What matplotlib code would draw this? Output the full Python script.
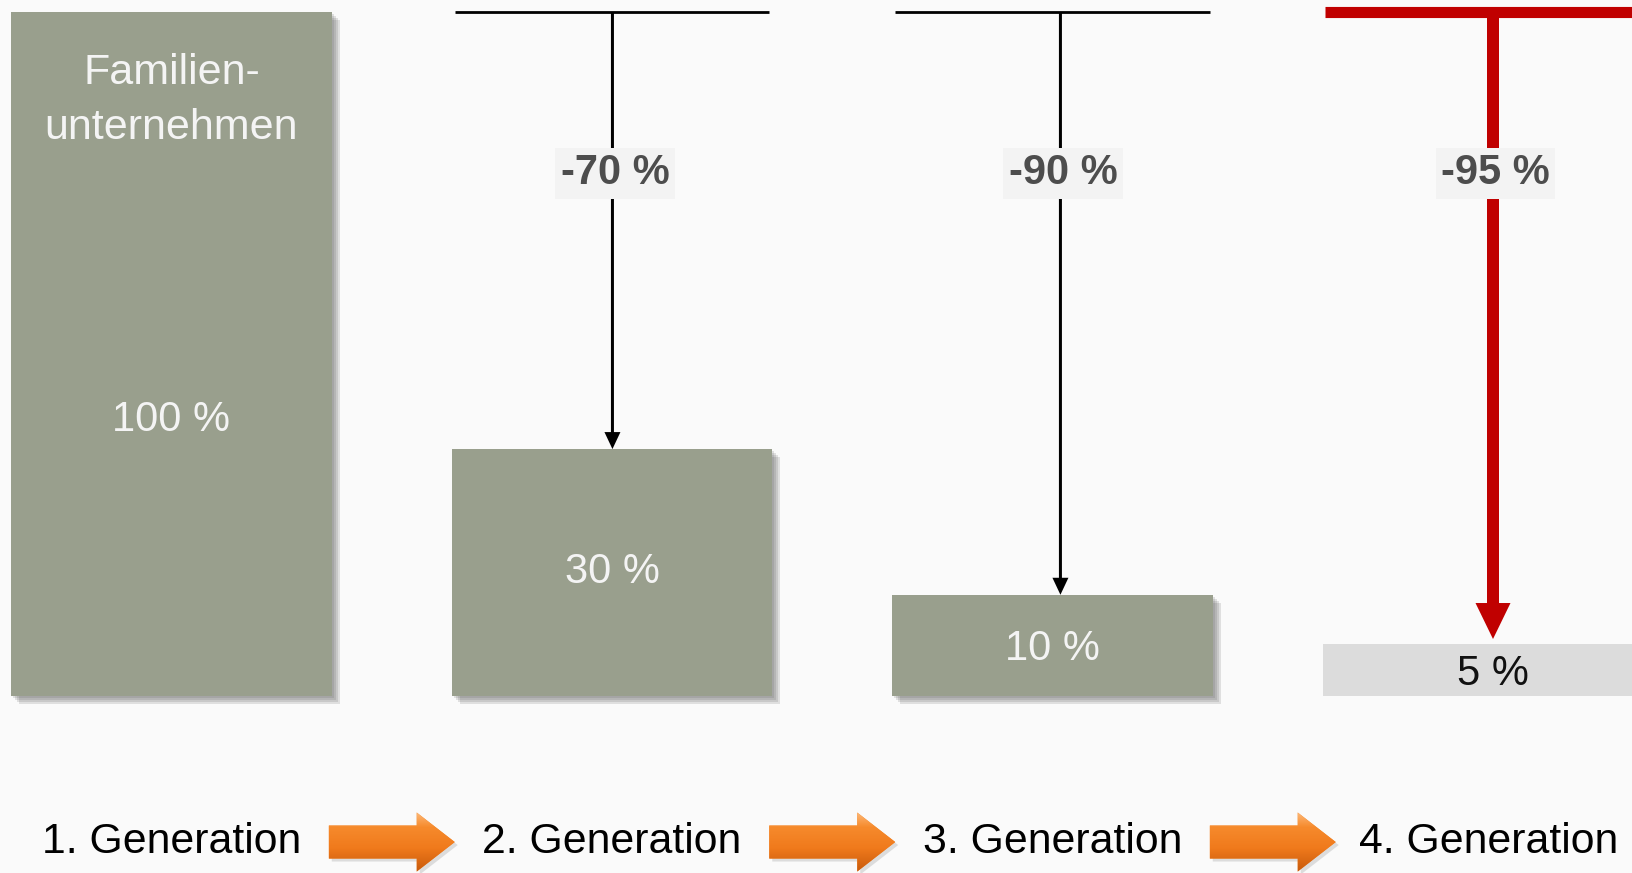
import numpy as np
import matplotlib.pyplot as plt
from matplotlib.patches import Rectangle
from matplotlib.colors import to_rgb

plt.rcParams['font.family'] = ['Liberation Sans', 'DejaVu Sans']

generations = ["1. Generation", "2. Generation", "3. Generation", "4. Generation"]
share_labels = ["100 %", "30 %", "10 %", "5 %"]
# box heights as drawn in the original (not to scale with the labels)
bar_heights = [100, 36.1, 14.8, 7.6]
drop_labels = ["", "-70 %", "-90 %", "-95 %"]
top_label = "Familien-\nunternehmen"

# pixel scale of the original slide: 440.5 px per generation, 6.84 px per %
W, H = 1633, 873
px_x = 1 / 440.5
px_y = 1 / 6.84

fig = plt.figure(figsize=(W / 100, H / 100), dpi=100)
fig.patch.set_facecolor('#fafafa')
ax = fig.add_axes([0, 0, 1, 1])
ax.set_xlim(-171.5 * px_x, (W - 171.5) * px_x)
ax.set_ylim(-177 * px_y, (H - 177) * px_y)
ax.axis('off')

x = np.arange(len(generations))
h = np.array(bar_heights)
green = '#999f8d'

# soft shadow behind the green boxes
for i in range(3):
    for s in [2, 4, 6, 8]:
        ax.add_patch(Rectangle((x[i] - 0.3635 + s * px_x, -s * px_y), 0.727, h[i],
                               color='#555555', alpha=0.16, lw=0, zorder=1))
ax.bar(x[:3], h[:3], width=0.727, color=green, zorder=2)
ax.bar(x[3], h[3], width=0.77, color='#dcdcdc', zorder=2)

# previous level lines and drop arrows
arrow_shift = [0, 0.001, 0.018, 0.0]
for i in [1, 2]:
    ax.hlines(h[0], x[i] - 0.357, x[i] + 0.357, color='black', lw=2, zorder=3)
    xa = x[i] + arrow_shift[i]
    ax.arrow(xa, h[0], 0, h[i] - h[0], width=3 * px_x, head_width=16 * px_x,
             head_length=17 * px_y, length_includes_head=True, color='black', lw=0, zorder=3)
ax.hlines(h[0], x[3] - 0.381, x[3] + 0.5, color='#c00000', lw=8, zorder=3)
ax.arrow(x[3], h[0], 0, h[3] + 5 * px_y - h[0], width=12 * px_x, head_width=35 * px_x,
         head_length=36 * px_y, length_includes_head=True, color='#c00000', lw=0, zorder=3)

for i in [1, 2, 3]:
    ax.text(x[i] + arrow_shift[i] + 2.5 * px_x, 74.8, drop_labels[i], ha='center', va='baseline',
            fontsize=30, fontweight='bold', color='#4d4d4d', zorder=5,
            bbox=dict(boxstyle='square,pad=0.13', fc='#f3f3f3', ec='none'))

# values inside the boxes
label_mid = h / 2
label_mid[0] = 41
label_mid[1] += 0.6
for i in range(4):
    ax.text(x[i], label_mid[i] - 2.2, share_labels[i], ha='center', va='baseline',
            fontsize=30, color='#f4f4f4' if i < 3 else '#111111', zorder=4)

for k, line in enumerate(top_label.split('\n')):
    ax.text(x[0], 89.5 - k * 8.0, line, ha='center', va='baseline',
            fontsize=31, color='#f4f4f4', zorder=4)

# generation row with orange arrows
row_y = -23.0
for i in range(4):
    ax.text(x[i] - (4 * px_x if i == 3 else 0), row_y, generations[i], ha='center',
            va='baseline', fontsize=30.8, color='black')

stops = [0, 0.25, 0.6, 1]
cols = np.array([to_rgb(c) for c in ['#fdb877', '#f68a2c', '#f07a1c', '#c85a0c']])
t = np.linspace(0, 1, 64)
grad = np.stack([np.interp(t, stops, cols[:, j]) for j in range(3)], axis=1)[:, None, :]
ay = -21.35
for i in range(3):
    x0 = x[i] + 0.5 - 0.143
    ax.arrow(x0 + 3 * px_x, ay - 3 * px_y, 0.286, 0, width=33 * px_y, head_width=59 * px_y,
             head_length=38 * px_x, length_includes_head=True, color='#999999', alpha=0.3, lw=0)
    arr = ax.arrow(x0, ay, 0.286, 0, width=33 * px_y, head_width=59 * px_y,
                   head_length=38 * px_x, length_includes_head=True, color='#f28a30', lw=0)
    im = ax.imshow(grad, extent=(x0, x0 + 0.286, ay - 30 * px_y, ay + 30 * px_y),
                   aspect='auto', origin='upper', zorder=3)
    im.set_clip_path(arr)

ax.set_xlim(-171.5 * px_x, (W - 171.5) * px_x)
ax.set_ylim(-177 * px_y, (H - 177) * px_y)

fig.savefig('out.png', dpi=100, facecolor=fig.get_facecolor())
